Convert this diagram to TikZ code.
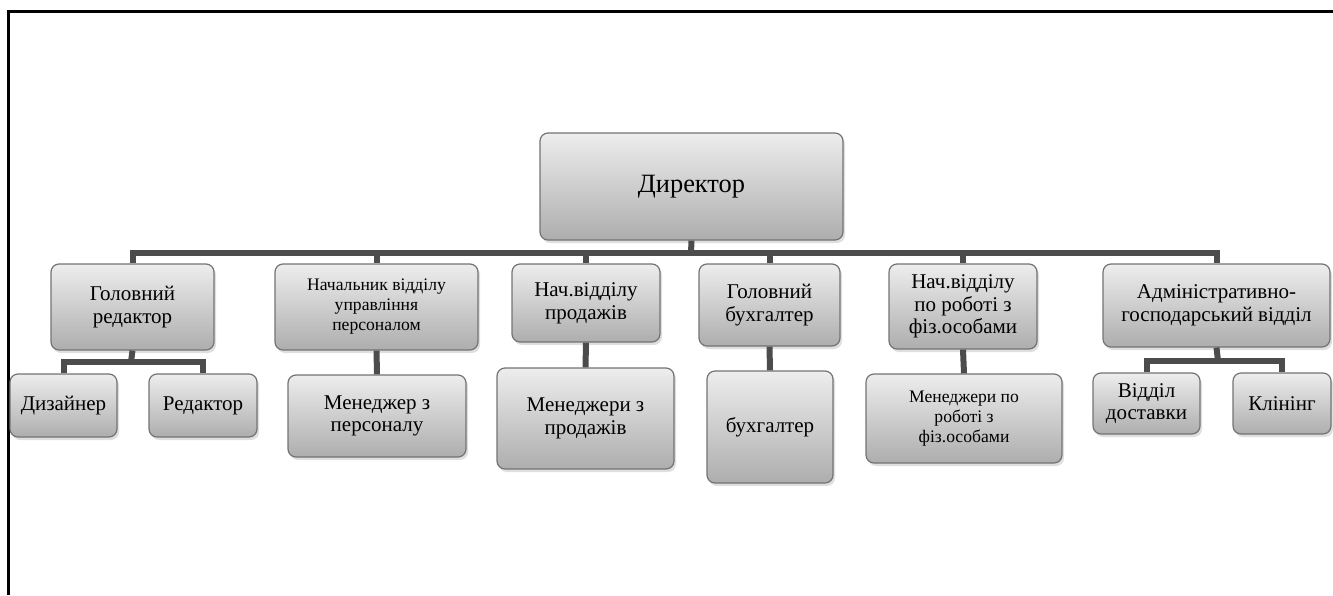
\documentclass[tikz,border=0pt]{standalone}
\usepackage{fontspec}
\setmainfont{Liberation Serif}
\usetikzlibrary{shadows}

\newcommand{\dirfont}{\fontsize{13.2}{15}\selectfont}
\newcommand{\boxfont}{\fontsize{10.5}{11.3}\selectfont}
\newcommand{\smallboxfont}{\fontsize{8.8}{10}\selectfont}

\tikzset{
  orgbox/.style={rounded corners=4pt, draw=black!55, line width=0.6pt,
    top color=black!7, bottom color=black!32, align=center, inner sep=0pt,
    drop shadow={opacity=0.25, shadow xshift=1pt, shadow yshift=-1.5pt}},
  link/.style={draw=black!70, line width=3pt}
}

\begin{document}
\begin{tikzpicture}[x=0.5pt, y=-0.5pt]
    % Page size and frame
    \useasboundingbox (0,0) rectangle (1333,595);
    \draw[line width=1.5pt] (8,595) -- (8,11) -- (1333,11);

    % Define boxes: name/left/top/right/bottom/font/text
    \def\boxes{%
      dir/540/133/843/240/\dirfont/Директор,%
      ed/51/264/214/350/\boxfont/Головний\\редактор,%
      pers/275/264/478/350/\smallboxfont/Начальник відділу\\управління\\персоналом,%
      prod/512/264/660/342/\boxfont/Нач.відділу\\продажів,%
      buh/699/264/840/346/\boxfont/Головний\\бухгалтер,%
      fiz/889/264/1037/349/\boxfont/Нач.відділу\\по роботі з\\фіз.особами,%
      adm/1103/264/1330/347/\boxfont/Адміністративно-\\господарський відділ,%
      diz/10/374/117/437/\boxfont/Дизайнер,%
      red/149/374/257/437/\boxfont/Редактор,%
      mpers/288/375/466/457/\boxfont/Менеджер з\\персоналу,%
      mprod/497/368/674/469/\boxfont/Менеджери з\\продажів,%
      mbuh/707/371/833/483/\boxfont/бухгалтер,%
      mfiz/866/374/1062/463/\smallboxfont/Менеджери по\\роботі з\\фіз.особами,%
      dost/1093/373/1200/434/\boxfont/Відділ\\доставки,%
      klin/1233/373/1331/434/\boxfont/Клінінг%
    }

    % Draw boxes
    \foreach \nm/\xa/\ya/\xb/\yb/\fnt/\txt in \boxes {
        \pgfmathsetmacro\cx{(\xa+\xb)/2}
        \pgfmathsetmacro\cy{(\ya+\yb)/2}
        \pgfmathsetmacro\bw{(\xb-\xa)*0.5}
        \pgfmathsetmacro\bh{(\yb-\ya)*0.5}
        \node[orgbox, font=\fnt, minimum width=\bw pt, minimum height=\bh pt] (\nm) at (\cx,\cy) {\txt};
    }

    % Bars between levels
    \coordinate (mainbar) at (691,253);
    \coordinate (edbar) at (131,362);
    \coordinate (admbar) at (1218,361);

    % Director to departments
    \draw[link] (dir.south) -- (mainbar);
    \draw[link] (ed.north) |- (mainbar) -| (adm.north);
    \foreach \nm in {pers, prod, buh, fiz} {
        \draw[link] (\nm.north) -- (\nm.north |- mainbar);
    }

    % Departments to staff
    \foreach \up/\down in {pers/mpers, prod/mprod, buh/mbuh, fiz/mfiz} {
        \draw[link] (\up.south) -- (\down.north);
    }
    \draw[link] (ed.south) -- (edbar);
    \draw[link] (diz.north) |- (edbar) -| (red.north);
    \draw[link] (adm.south) -- (admbar);
    \draw[link] (dost.north) |- (admbar) -| (klin.north);

\end{tikzpicture}
\end{document}
